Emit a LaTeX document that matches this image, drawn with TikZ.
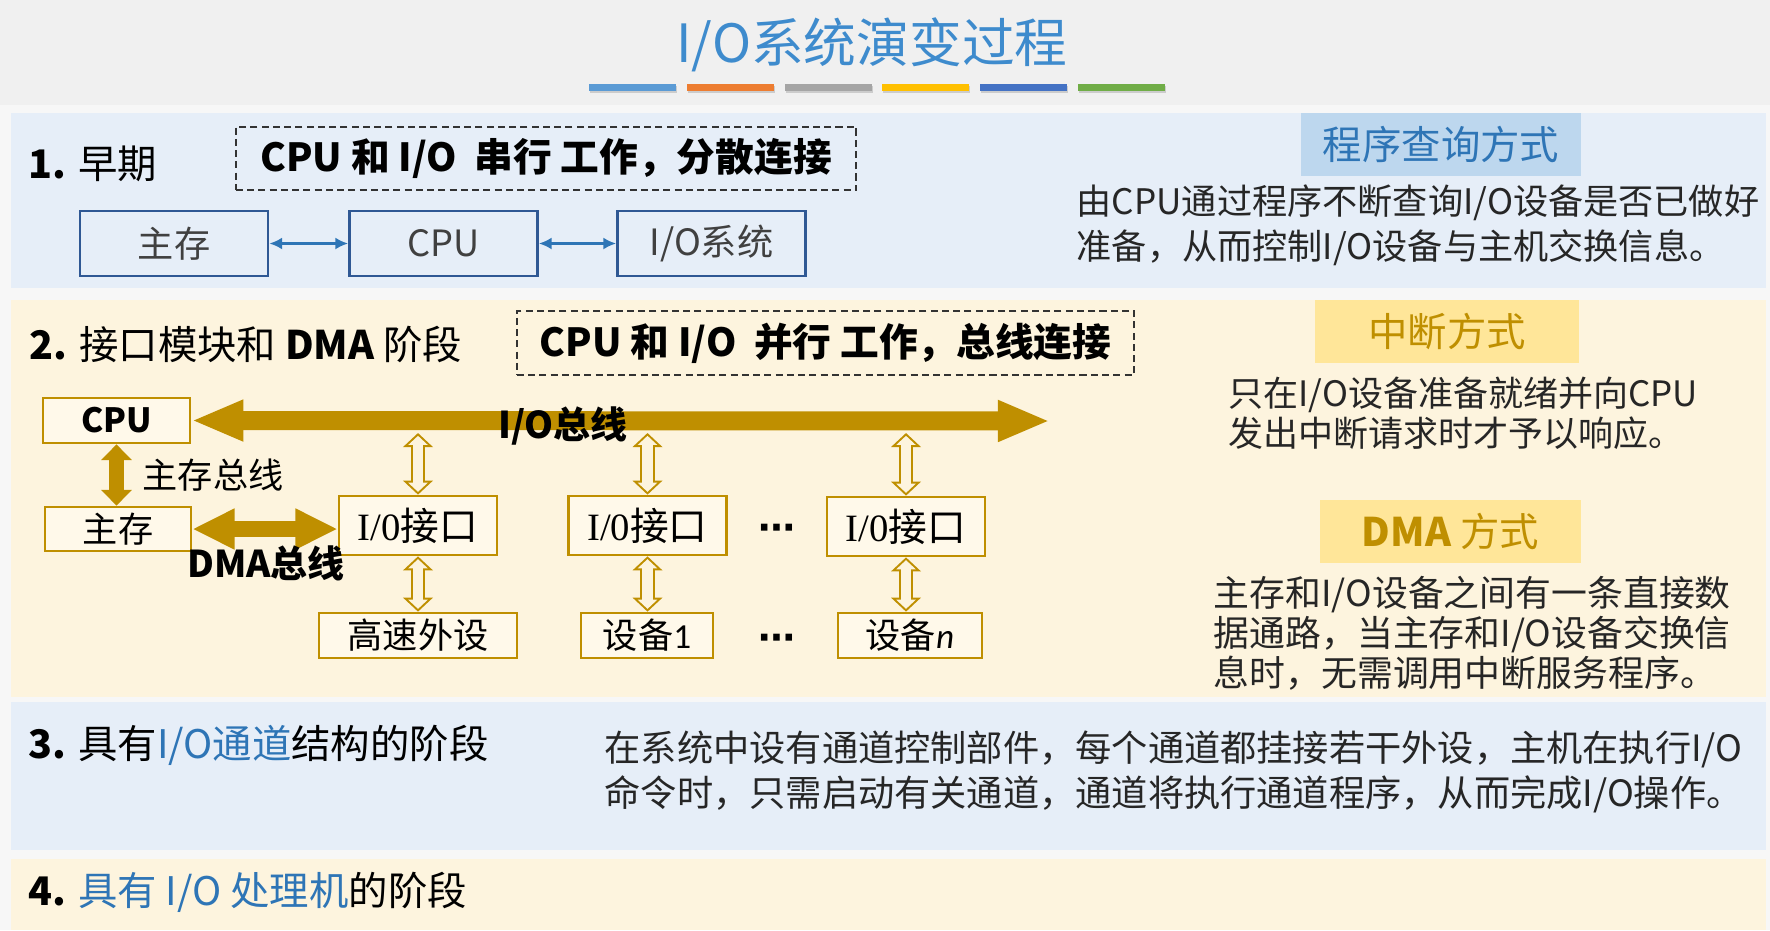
\documentclass[tikz,border=0pt]{standalone}
\usepackage{fontspec}
\setmainfont{Noto Sans CJK SC}
\newfontfamily\seriffont{Liberation Serif}
\newfontfamily\calfont{Carlito}
\newfontfamily\dotsfont{DejaVu Sans}
\usetikzlibrary{arrows.meta, positioning, calc}
\definecolor{pagebg}{RGB}{240,240,240}
\definecolor{gapbg}{RGB}{247,247,247}
\definecolor{panelblue}{RGB}{230,238,248}
\definecolor{panelyellow}{RGB}{253,244,222}
\definecolor{titleblue}{RGB}{62,139,205}
\definecolor{boxblue}{RGB}{47,88,148}
\definecolor{lineblue}{RGB}{46,117,182}
\definecolor{tagblue}{RGB}{189,215,238}
\definecolor{tagyellow}{RGB}{255,230,153}
\definecolor{gold}{RGB}{191,143,0}
\definecolor{cream}{RGB}{255,249,234}
\definecolor{barblue}{RGB}{91,155,213}
\definecolor{barorange}{RGB}{237,125,49}
\definecolor{bargray}{RGB}{165,165,165}
\definecolor{baryellow}{RGB}{255,192,0}
\definecolor{bardarkblue}{RGB}{68,114,196}
\definecolor{bargreen}{RGB}{112,173,71}
\tikzset{
  >=latex,
  % Pannelli e testi
  heading/.style={anchor=west,inner sep=0,font=\fontsize{11.2}{14}\selectfont},
  tag/.style={minimum height=0.63cm,inner sep=0,font=\fontsize{11.2}{14}\selectfont},
  desc/.style={anchor=west,align=left,inner sep=0,text=black!85,font=\fontsize{10}{12.8}\selectfont},
  dashbox/.style={draw=black!80,line width=0.6pt,dash pattern=on 2pt off 1.2pt,
    minimum width=6.2cm,minimum height=0.63cm,font=\bfseries\fontsize{11}{14}\selectfont},
  ellipsis/.style={inner sep=0,font=\dotsfont\bfseries\fontsize{10.5}{12}\selectfont},
  % Box
  bluebox/.style={draw=boxblue,line width=0.8pt,minimum width=1.88cm,minimum height=0.65cm,
    text=black!75,font=\fontsize{10.3}{12}\selectfont},
  goldbox/.style={draw=gold,line width=0.75pt,fill=cream,inner sep=0,font=\fontsize{10}{12}\selectfont},
  iobox/.style={goldbox,minimum width=1.58cm,minimum height=0.59cm,font=\fontsize{11}{12}\selectfont},
  devbox/.style={goldbox,minimum height=0.45cm},
  % Connessioni
  connect arrow/.style={lineblue,line width=0.6pt,
    {Latex[length=3.6pt,width=3.4pt]}-{Latex[length=3.6pt,width=3.4pt]}},
  bus arrow/.style={gold,line width=5.4pt,
    {Triangle[length=14.8pt,width=10.8pt]}-{Triangle[length=14.8pt,width=10.8pt]}},
  dma arrow/.style={gold,line width=4.5pt,
    {Triangle[length=12pt,width=10.8pt]}-{Triangle[length=12pt,width=10.8pt]}},
  mem arrow/.style={gold,line width=4pt,
    {Triangle[length=4.5pt,width=8.5pt]}-{Triangle[length=4.5pt,width=8.5pt]}},
  hollow arrow/.style={preaction={draw=gold,line width=4pt,shorten <=0pt,shorten >=0pt,
      {Triangle[length=4pt,width=8.3pt]}-{Triangle[length=4pt,width=8.3pt]}},
    draw=panelyellow,line width=2.85pt,shorten <=0.8pt,shorten >=0.8pt,
    {Triangle[length=2.6pt,width=5.4pt]}-{Triangle[length=2.6pt,width=5.4pt]}}
}

\begin{document}
\begin{tikzpicture}[x=0.01cm,y=-0.01cm]
  \useasboundingbox (0,0) rectangle (1770,930);
  \fill[pagebg] (0,0) rectangle (1770,930);
  \fill[gapbg] (0,105) rectangle (1770,930);
  \fill[panelblue] (11,113) rectangle (1766,288);
  \fill[panelyellow] (11,300) rectangle (1766,697);
  \fill[panelblue] (11,702) rectangle (1766,850);
  \fill[panelyellow] (11,859) rectangle (1766,930);

  \node[text=titleblue,font=\fontsize{15}{18}\selectfont] (title) at (872,45) {I/O系统演变过程};
  \foreach \c [count=\i from 0] in {barblue,barorange,bargray,baryellow,bardarkblue,bargreen} {
    \fill[black!20] (590+97.8*\i,86) rectangle ++(87,7);
    \fill[\c] (589+97.8*\i,84) rectangle ++(87,7);
  }

  % 1
  \node[heading] (h1) at (28,164) {\textbf{1.} 早期};
  \node[dashbox] (serial) at (546,158.5) {CPU 和 I/O\ \ 串行 工作，分散连接};
  \node[bluebox] (mem1) at (174,243.5) {主存};
  \node[bluebox] (cpu1) at (443.5,243.5) {CPU};
  \node[bluebox] (iosys) at (711.5,243.5) {I/O系统};
  \draw[connect arrow] (mem1) -- (cpu1);
  \draw[connect arrow] (cpu1) -- (iosys);
  \node[tag,fill=tagblue,text=lineblue,minimum width=2.8cm] (tag1) at (1441,144.5) {程序查询方式};
  \node[desc] (desc1) at (1076,225.5)
    {由CPU通过程序不断查询I/O设备是否已做好\\准备，从而控制I/O设备与主机交换信息。};

  % 2
  \node[heading] (h2) at (29,344) {\textbf{2.} 接口模块和 \textbf{DMA} 阶段};
  \node[dashbox,minimum width=6.17cm] (parallel) at (825.5,343) {CPU 和 I/O\ \ 并行 工作，总线连接};
  \node[goldbox,minimum width=1.47cm,minimum height=0.45cm,font=\bfseries\fontsize{9.5}{12}\selectfont]
    (cpu2) at (116.5,420.5) {CPU};
  \node[goldbox,minimum width=1.46cm,minimum height=0.44cm] (mem2) at (118,529) {主存};
  \node[iobox] (io1) at (418,525.5) {{\seriffont I/0}接口};
  \node[iobox] (io2) at (647.5,525.5) {{\seriffont I/0}接口};
  \node[iobox] (io3) at (906,526.5) {{\seriffont I/0}接口};
  \node[devbox,minimum width=1.98cm] (dev1) at (418,635.5) {高速外设};
  \node[devbox,minimum width=1.32cm] (dev2) at (647,635.5) {设备{\calfont 1}};
  \node[devbox,minimum width=1.44cm] (devn) at (910,635.5) {设备{\calfont\itshape n}};
  \node[ellipsis] (dots1) at (777,532) {⋯};
  \node[ellipsis] (dots2) at (777,642) {⋯};

  \coordinate (busend) at (1050,421);
  \coordinate (busbot) at (0,433);
  \draw[bus arrow] (cpu2.east) -- (busend);
  \node[font=\bfseries\fontsize{10.5}{12}\selectfont] (iobus) at (563,426) {I/O总线};
  \draw[mem arrow] (cpu2.south) -- (cpu2.south |- mem2.north);
  \node[anchor=west,inner sep=0,font=\fontsize{10}{12}\selectfont] (membus) at (142,475) {主存总线};
  \draw[dma arrow] (mem2.east) -- (mem2.east -| io1.west);
  \node[font=\bfseries\fontsize{10.5}{12}\selectfont] (dmabus) at (266,563) {DMA总线};
  \foreach \b/\d in {io1/dev1,io2/dev2,io3/devn} {
    \draw[hollow arrow] (\b.north |- busbot) -- (\b.north);
    \draw[hollow arrow] (\b.south) -- (\b.south |- \d.north);
  }

  \node[tag,fill=tagyellow,text=gold,minimum width=2.64cm] (tag2) at (1447,331.5) {中断方式};
  \node[desc,font=\fontsize{9.95}{11.4}\selectfont] (desc2) at (1228,413)
    {只在I/O设备准备就绪并向CPU\\发出中断请求时才予以响应。};
  \node[tag,fill=tagyellow,text=gold,minimum width=2.61cm] (tag3) at (1450.5,531.5) {\textbf{DMA} 方式};
  \node[desc,font=\fontsize{10.2}{11.4}\selectfont] (desc3) at (1213,633)
    {主存和I/O设备之间有一条直接数\\据通路，当主存和I/O设备交换信\\息时，无需调用中断服务程序。};

  % 3 e 4
  \node[heading] (h3) at (28,745) {\textbf{3.} 具有\textcolor{lineblue}{I/O通道}结构的阶段};
  \node[desc,font=\fontsize{10.3}{12.8}\selectfont] (desc4) at (604,772)
    {在系统中设有通道控制部件，每个通道都挂接若干外设，主机在执行I/O\\命令时，只需启动有关通道，通道将执行通道程序，从而完成I/O操作。};
  \node[heading] (h4) at (28,892) {\textbf{4.} \textcolor{lineblue}{具有 I/O 处理机}的阶段};
\end{tikzpicture}
\end{document}
